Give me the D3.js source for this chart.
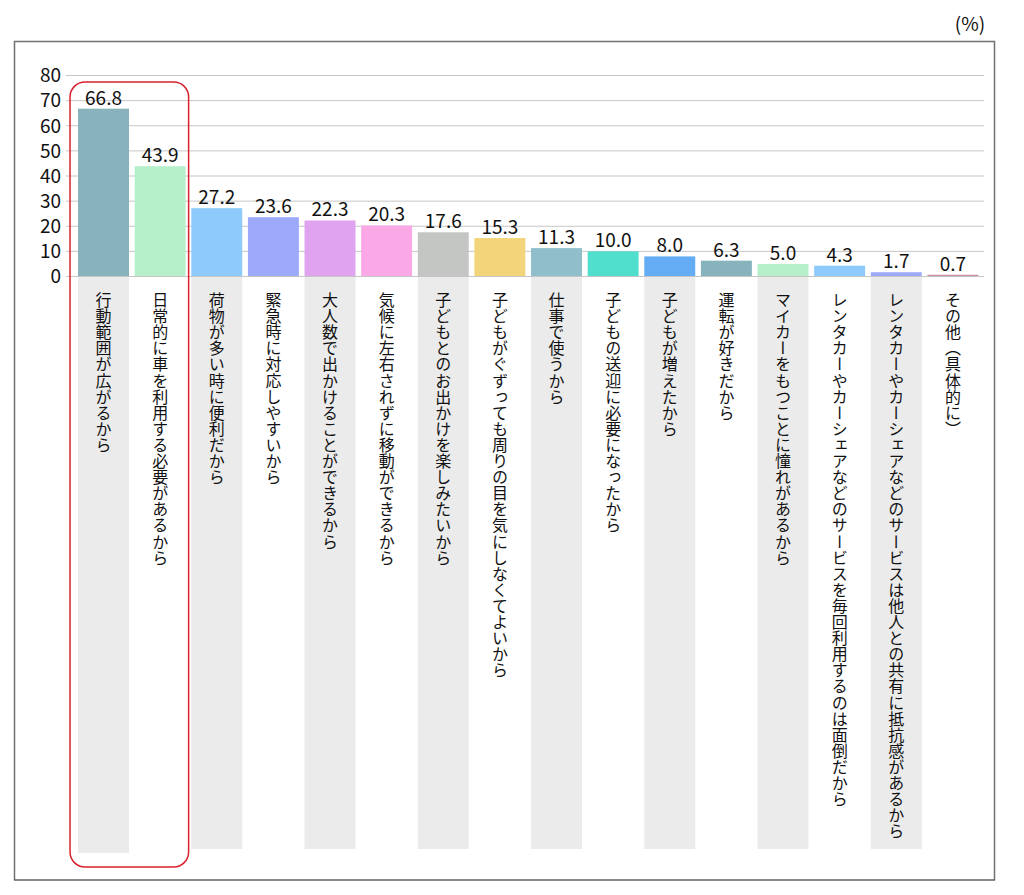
<!DOCTYPE html>
<html>
<head>
<meta charset="utf-8">
<script src="https://cdn.jsdelivr.net/npm/d3@7"></script>
<style>
  html, body { margin: 0; padding: 0; background: #fff; }
  svg { display: block; }
  text { font-family: "Noto Sans CJK JP", "Noto Sans", sans-serif; fill: #111; }
</style>
</head>
<body>
<svg id="chart" width="1024" height="895"></svg>
<script>
const categories = [
  "行動範囲が広がるから",
  "日常的に車を利用する必要があるから",
  "荷物が多い時に便利だから",
  "緊急時に対応しやすいから",
  "大人数で出かけることができるから",
  "気候に左右されずに移動ができるから",
  "子どもとのお出かけを楽しみたいから",
  "子どもがぐずっても周りの目を気にしなくてよいから",
  "仕事で使うから",
  "子どもの送迎に必要になったから",
  "子どもが増えたから",
  "運転が好きだから",
  "マイカーをもつことに憧れがあるから",
  "レンタカーやカーシェアなどのサービスを毎回利用するのは面倒だから",
  "レンタカーやカーシェアなどのサービスは他人との共有に抵抗感があるから",
  "その他（具体的に）"
];
const values = [66.8, 43.9, 27.2, 23.6, 22.3, 20.3, 17.6, 15.3, 11.3, 10.0, 8.0, 6.3, 5.0, 4.3, 1.7, 0.7];
const colors = ["#88b3bd", "#b5f0cb", "#8ecbfc", "#9daafa", "#e0a3f0", "#fba8e6", "#c4c6c4", "#f2d57a",
                "#90bfcb", "#4fdfcc", "#64adf5", "#87b3bd", "#b5f0cb", "#8ecbfc", "#9daafa", "#cf8fa0"];
const yTicks = [0, 10, 20, 30, 40, 50, 60, 70, 80];
const unitLabel = "(%)";
const highlighted = [0, 1];

const svg = d3.select("#chart");

// frame
svg.append("path")
  .attr("d", "M14.5,880 L14.5,41.5 L994.5,41.5 L994.5,880")
  .attr("fill", "none").attr("stroke", "#707070").attr("stroke-width", 1.5);
svg.append("line").attr("x1", 14).attr("x2", 995).attr("y1", 880).attr("y2", 880)
  .attr("stroke", "#606060").attr("stroke-width", 1.5);

svg.append("text").attr("x", 970).attr("y", 31).attr("text-anchor", "middle")
  .attr("font-size", 19).text(unitLabel);

const x = d3.scaleBand().domain(d3.range(categories.length)).range([75.2, 981.2]).paddingInner(0.1).paddingOuter(0.05);
const y = d3.scaleLinear().domain([0, 80]).range([276.5, 75.5]);

// label stripes
svg.append("g").selectAll("rect").data(categories.map((c, i) => i).filter(i => i % 2 === 0)).join("rect")
  .attr("x", i => x(i)).attr("width", x.bandwidth())
  .attr("y", 277).attr("height", i => (i === 0 ? 853 : 849) - 277)
  .attr("fill", "#ebebeb");

// gridlines
svg.append("g").selectAll("line").data(yTicks).join("line")
  .attr("x1", 66).attr("x2", 984)
  .attr("y1", d => y(d)).attr("y2", d => y(d))
  .attr("stroke", "#c6c6c6").attr("stroke-width", 1);

// y tick labels
svg.append("g").selectAll("text").data(yTicks).join("text")
  .attr("x", 61).attr("y", d => y(d)).attr("dy", "0.36em")
  .attr("text-anchor", "end").attr("font-size", 19).text(d => d);

// bars
svg.append("g").selectAll("rect").data(values).join("rect")
  .attr("x", (d, i) => x(i)).attr("width", x.bandwidth())
  .attr("y", d => y(d)).attr("height", d => y(0) - y(d) - 0.5)
  .attr("fill", (d, i) => colors[i]);

// value labels
svg.append("g").selectAll("text").data(values).join("text")
  .attr("x", (d, i) => x(i) + x.bandwidth() / 2).attr("y", d => y(d) - 4)
  .attr("text-anchor", "middle").attr("font-size", 19)
  .text(d => d.toFixed(1));

// category labels (vertical), one glyph per cell at a fixed pitch
const pitch = 16.1;
const catG = svg.append("g").selectAll("g").data(categories).join("g");
catG.selectAll("text").data((d, i) => Array.from(d).map((ch, j) => ({ ch, j, i }))).join("text")
  .attr("x", d => x(d.i) + x.bandwidth() / 2)
  .attr("y", d => 292 + d.j * pitch)
  .attr("font-size", 16)
  .style("writing-mode", "vertical-rl")
  .text(d => d.ch);

// highlight rounded box
const hx0 = x(highlighted[0]) - 8, hx1 = x(highlighted[highlighted.length - 1]) + x.bandwidth() + 3;
svg.append("rect")
  .attr("x", hx0).attr("y", 82).attr("width", hx1 - hx0).attr("height", 867 - 82)
  .attr("rx", 15).attr("ry", 15)
  .attr("fill", "none").attr("stroke", "#d9222e").attr("stroke-width", 1.5);
</script>
</body>
</html>
